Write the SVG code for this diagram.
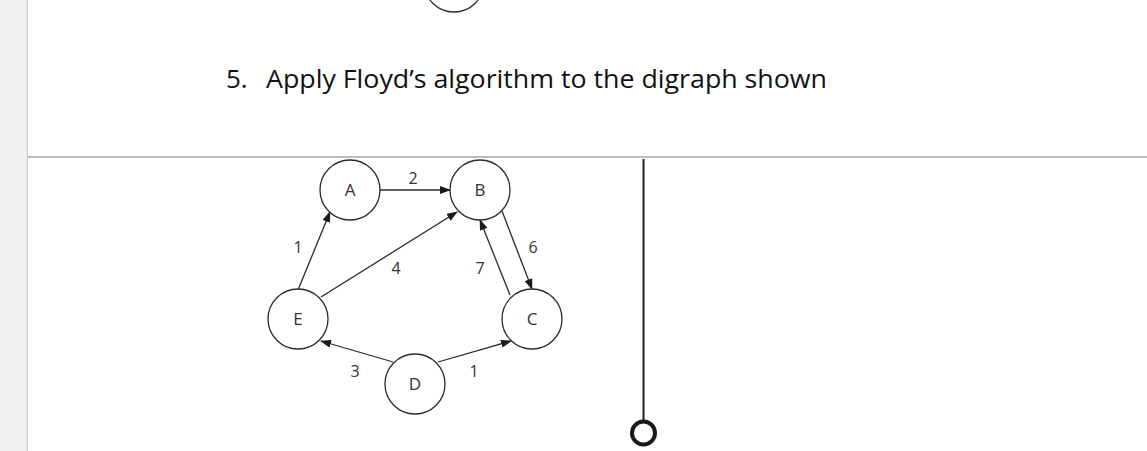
<svg xmlns="http://www.w3.org/2000/svg" width="1147" height="451" viewBox="0 0 1147 451">
<style>
.node circle{fill:#fff;stroke:#2a2a2a;stroke-width:1.3}
.node text{font-family:"Open Sans","Noto Sans",sans-serif;font-size:17px;fill:#333;text-anchor:middle}
.lbl{font-family:"Open Sans","Noto Sans",sans-serif;font-size:16px;fill:#333;text-anchor:middle}
.edge{stroke:#2a2a2a;stroke-width:1.3;fill:none;marker-end:url(#ah)}
.title{font-family:"Open Sans","Liberation Sans",sans-serif;font-size:26px;fill:#111}
</style>
<defs>
<marker id="ah" markerWidth="11" markerHeight="8" refX="10" refY="4" orient="auto" markerUnits="userSpaceOnUse">
<path d="M0,0 L11,4 L0,8 Z" fill="#1a1a1a"/>
</marker>
</defs>
<rect x="0" y="0" width="1147" height="451" fill="#fff"/>
<rect x="0" y="0" width="27" height="451" fill="#f0f0f0"/>
<line x1="27.5" y1="0" x2="27.5" y2="451" stroke="#c8c8c8" stroke-width="1"/>
<line x1="28" y1="157" x2="1147" y2="157" stroke="#bdbdbd" stroke-width="2"/>
<circle cx="454" cy="-18" r="30" fill="none" stroke="#2a2a2a" stroke-width="1.3"/>
<text class="title" x="226" y="88">5.</text>
<text class="title" x="266" y="88" textLength="561" lengthAdjust="spacingAndGlyphs">Apply Floyd’s algorithm to the digraph shown</text>
<g id="connectors">
<line class="edge" x1="380" y1="190" x2="450" y2="190"/>
<line class="edge" x1="298" y1="290" x2="330" y2="212"/>
<line class="edge" x1="321" y1="297" x2="457" y2="212"/>
<line class="edge" x1="502" y1="211" x2="532" y2="289"/>
<line class="edge" x1="510" y1="295" x2="480" y2="220"/>
<line class="edge" x1="393" y1="362" x2="321" y2="341"/>
<line class="edge" x1="438" y1="362" x2="511" y2="341"/>
<text class="lbl" x="413" y="184">2</text>
<text class="lbl" x="298" y="253">1</text>
<text class="lbl" x="396" y="274">4</text>
<text class="lbl" x="533" y="253">6</text>
<text class="lbl" x="480" y="274">7</text>
<text class="lbl" x="355" y="377">3</text>
<text class="lbl" x="474" y="377">1</text>
</g>
<g id="A" class="node"><circle cx="350" cy="190" r="30"/><text x="350" y="196">A</text></g>
<g id="B" class="node"><circle cx="480" cy="190" r="30"/><text x="480" y="196">B</text></g>
<g id="E" class="node"><circle cx="298" cy="319" r="30"/><text x="298" y="325">E</text></g>
<g id="C" class="node"><circle cx="532" cy="319" r="30"/><text x="532" y="325">C</text></g>
<g id="D" class="node"><circle cx="415" cy="384" r="30"/><text x="415" y="390">D</text></g>
<line x1="643.5" y1="159" x2="643.5" y2="420" stroke="#222" stroke-width="2"/>
<circle cx="643.5" cy="433" r="11.5" fill="none" stroke="#1a1a1a" stroke-width="4"/>
</svg>
